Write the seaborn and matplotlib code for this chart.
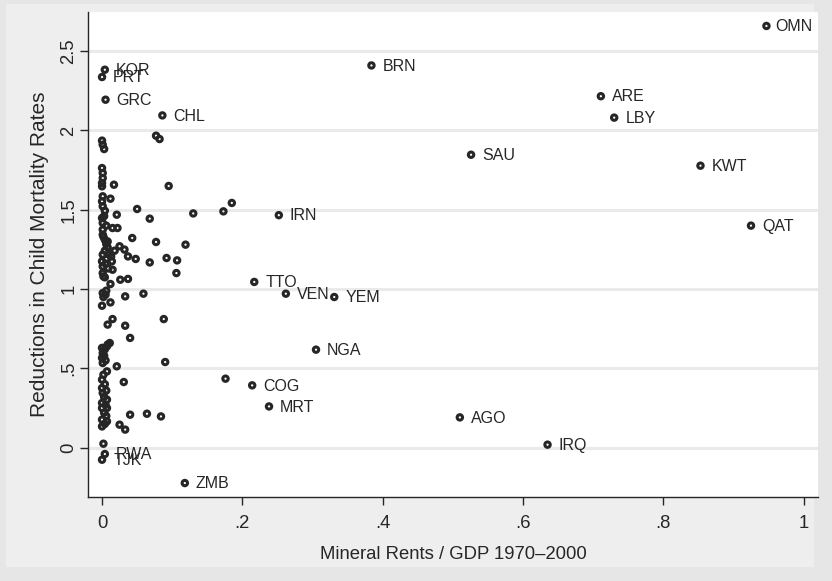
import pandas as pd
import matplotlib.pyplot as plt
import seaborn as sns
from matplotlib.patches import Rectangle

# labelled countries (mineral rents / GDP, reduction in child mortality)
label_codes = ['OMN', 'KOR', 'PRT', 'GRC', 'CHL', 'BRN', 'ARE', 'LBY', 'SAU', 'KWT',
               'QAT', 'IRN', 'TTO', 'VEN', 'YEM', 'NGA', 'COG', 'MRT', 'AGO', 'IRQ',
               'RWA', 'TJK', 'ZMB']
label_x = [0.947, 0.004, 0.000, 0.005, 0.086, 0.384, 0.711, 0.730, 0.526, 0.853,
           0.925, 0.252, 0.217, 0.262, 0.331, 0.305, 0.214, 0.238, 0.510, 0.635,
           0.004, 0.000, 0.118]
label_y = [2.659, 2.383, 2.337, 2.194, 2.095, 2.410, 2.216, 2.081, 1.847, 1.778,
           1.400, 1.466, 1.045, 0.971, 0.950, 0.618, 0.393, 0.260, 0.191, 0.019,
           -0.040, -0.076, -0.223]

# unlabelled countries
other_x = [0.077, 0.082, 0.000, 0.001, 0.003, 0.000, 0.001, 0.001, 0.000, 0.000,
           0.017, 0.095, 0.001, 0.012, 0.000, 0.001, 0.004, 0.050, 0.021, 0.068,
           0.130, 0.173, 0.185, 0.000, 0.001, 0.015, 0.022, 0.001, 0.001, 0.043,
           0.004, 0.077, 0.119, 0.006, 0.008, 0.025, 0.032, 0.004, 0.018, 0.037,
           0.048, 0.001, 0.013, 0.000, 0.014, 0.092, 0.107, 0.068, 0.001, 0.015,
           0.001, 0.106, 0.004, 0.012, 0.026, 0.037, 0.003, 0.006, 0.002, 0.008,
           0.010, 0.005, 0.009, 0.002, 0.006,
           0.001, 0.005, 0.033, 0.059, 0.000, 0.012, 0.015, 0.008, 0.033, 0.088,
           0.040, 0.011, 0.007, 0.000, 0.001, 0.000, 0.001, 0.021, 0.090, 0.007,
           0.000, 0.031, 0.176, 0.000, 0.001, 0.007, 0.000, 0.007, 0.000, 0.040,
           0.064, 0.084, 0.000, 0.007, 0.000, 0.025, 0.033, 0.002, 0.004, 0.008,
           0.003, 0.005, 0.002, 0.004, 0.006, 0.003, 0.005, 0.003, 0.006, 0.004,
           0.002, 0.006]
other_y = [1.967, 1.946, 1.936, 1.910, 1.883, 1.763, 1.732, 1.700, 1.669, 1.648,
           1.658, 1.650, 1.585, 1.570, 1.553, 1.522, 1.494, 1.505, 1.469, 1.444,
           1.477, 1.490, 1.543, 1.448, 1.417, 1.385, 1.385, 1.375, 1.343, 1.322,
           1.311, 1.297, 1.280, 1.284, 1.263, 1.270, 1.249, 1.242, 1.242, 1.206,
           1.190, 1.217, 1.206, 1.175, 1.175, 1.196, 1.181, 1.168, 1.143, 1.122,
           1.101, 1.101, 1.074, 1.032, 1.059, 1.064, 1.460, 1.400, 1.330, 1.300,
           1.220, 1.160, 1.130, 1.080, 1.190,
           0.975, 0.965, 0.954, 0.971, 0.895, 0.916, 0.811, 0.776, 0.769, 0.811,
           0.692, 0.660, 0.639, 0.629, 0.597, 0.566, 0.534, 0.513, 0.540, 0.481,
           0.429, 0.414, 0.435, 0.376, 0.345, 0.303, 0.282, 0.250, 0.250, 0.208,
           0.214, 0.197, 0.177, 0.166, 0.134, 0.145, 0.114, 0.025, 0.620, 0.650,
           0.580, 0.550, 0.460, 0.400, 0.360, 0.320, 0.270, 0.220, 0.200, 0.150,
           0.950, 0.990]

x_ticks = [0, 0.2, 0.4, 0.6, 0.8, 1]
x_ticklabels = ['0', '.2', '.4', '.6', '.8', '1']
y_ticks = [0, 0.5, 1, 1.5, 2, 2.5]
y_ticklabels = ['0', '.5', '1', '1.5', '2', '2.5']

df = pd.DataFrame({'rents': label_x + other_x, 'mortality': label_y + other_y})

sns.set_style('white')
plt.rcParams['font.family'] = ['Liberation Sans', 'DejaVu Sans']
ink = '#262626'
axis_fs = 13.3

fig = plt.figure(figsize=(8.32, 5.81), dpi=100)
fig.patch.set_facecolor('#e6e6e6')
fig.patches.append(Rectangle((6 / 832, 14 / 581), 808 / 832, 563 / 581,
                             transform=fig.transFigure, facecolor='#eeeeee',
                             edgecolor='none', zorder=-10))
ax = fig.add_axes([88 / 832, 1 - 497 / 581, 730 / 832, 485 / 581])
ax.set_facecolor('white')

sns.scatterplot(data=df, x='rents', y='mortality', ax=ax, marker='o', s=15,
                facecolors='none', edgecolor=ink, linewidth=2.2, zorder=3)

for code, xv, yv in zip(label_codes, label_x, label_y):
    off = 6.5 if code == 'OMN' else 8
    ax.annotate(code, (xv, yv), xytext=(off, -0.5), textcoords='offset points',
                va='center', ha='left', fontsize=11.5, color=ink,
                annotation_clip=False)

ax.set_xlim(-0.02, 1.0205)
ax.set_ylim(-0.311, 2.747)
ax.set_xticks(x_ticks)
ax.set_xticklabels(x_ticklabels)
ax.set_yticks(y_ticks)
ax.set_yticklabels(y_ticklabels, rotation=90, va='center')
ax.tick_params(axis='both', direction='out', length=6, width=1, color=ink,
               labelsize=axis_fs, labelcolor=ink, bottom=True, left=True)
ax.tick_params(axis='x', pad=7)
ax.tick_params(axis='y', pad=1.5)

ax.yaxis.grid(True, color='#eaeaea', lw=2.2)
ax.xaxis.grid(False)
ax.set_axisbelow(True)
for side in ['top', 'right']:
    ax.spines[side].set_visible(False)
for side in ['left', 'bottom']:
    ax.spines[side].set_color(ink)
    ax.spines[side].set_linewidth(1)

ax.set_xlabel('Mineral Rents / GDP 1970–2000', fontsize=axis_fs, color=ink, labelpad=10)
ax.set_ylabel('Reductions in Child Mortality Rates', fontsize=15, color=ink, labelpad=8)

plt.savefig('out.png', dpi=100, facecolor=fig.get_facecolor())
